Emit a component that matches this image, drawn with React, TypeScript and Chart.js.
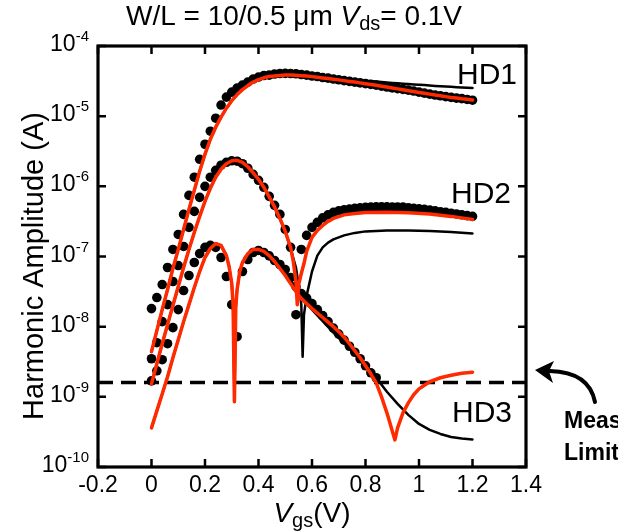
import React, { useEffect, useRef } from 'react';
import { Chart, registerables } from 'chart.js';

Chart.register(...registerables);

const FONT = '"Liberation Sans", Arial, Helvetica, sans-serif';

// ---- Axis ticks ----
const X_TICKS = [-0.2, 0, 0.2, 0.4, 0.6, 0.8, 1, 1.2, 1.4];
const X_TICK_LABELS = ['-0.2', '0', '0.2', '0.4', '0.6', '0.8', '1', '1.2', '1.4'];
const Y_TICKS = [1e-10, 1e-9, 1e-8, 1e-7, 1e-6, 1e-5, 1e-4];
const Y_TICK_EXP = ['-10', '-9', '-8', '-7', '-6', '-5', '-4'];

// ---- Measured points (dots) ----
const VGS = [0, 0.02, 0.04, 0.06, 0.08, 0.1, 0.12, 0.14, 0.16, 0.18, 0.2, 0.22, 0.24, 0.26, 0.28, 0.3, 0.32, 0.34, 0.36, 0.38, 0.4, 0.42, 0.44, 0.46, 0.48, 0.5, 0.52, 0.54, 0.56, 0.58, 0.6, 0.62, 0.64, 0.66, 0.68, 0.7, 0.72, 0.74, 0.76, 0.78, 0.8, 0.82, 0.84, 0.86, 0.88, 0.9, 0.92, 0.94, 0.96, 0.98, 1.0, 1.02, 1.04, 1.06, 1.08, 1.1, 1.12, 1.14, 1.16, 1.18, 1.2];

const HD1_MEAS = [1.81e-8, 2.6e-8, 3.98e-8, 6.97e-8, 1.26e-7, 2.06e-7, 3.98e-7, 7.43e-7, 1.35e-6, 2.43e-6, 3.98e-6, 6.11e-6, 9.36e-6, 1.44e-5, 1.87e-5, 2.2e-5, 2.51e-5, 2.77e-5, 3.06e-5, 3.38e-5, 3.61e-5, 3.79e-5, 3.85e-5, 3.98e-5, 4.05e-5, 4.07e-5, 4.05e-5, 4.02e-5, 3.92e-5, 3.85e-5, 3.73e-5, 3.67e-5, 3.55e-5, 3.49e-5, 3.38e-5, 3.3e-5, 3.21e-5, 3.13e-5, 3.06e-5, 2.98e-5, 2.91e-5, 2.84e-5, 2.77e-5, 2.68e-5, 2.6e-5, 2.53e-5, 2.47e-5, 2.41e-5, 2.35e-5, 2.28e-5, 2.2e-5, 2.13e-5, 2.06e-5, 2.0e-5, 1.95e-5, 1.9e-5, 1.85e-5, 1.81e-5, 1.78e-5, 1.73e-5, 1.69e-5];

const HD2_MEAS = [3.49e-9, 5.91e-9, 1.18e-8, 2.06e-8, 4.4e-8, 7.43e-8, 1.39e-7, 2.6e-7, 4.4e-7, 6.97e-7, 1.0e-6, 1.35e-6, 1.69e-6, 2.0e-6, 2.2e-6, 2.31e-6, 2.28e-6, 2.1e-6, 1.81e-6, 1.48e-6, 1.22e-6, 9.68e-7, 7.2e-7, 5.36e-7, 3.98e-7, 2.43e-7, 1.35e-7, 1.48e-8, 1.26e-7, 2.0e-7, 2.6e-7, 3.06e-7, 3.55e-7, 3.92e-7, 4.25e-7, 4.47e-7, 4.62e-7, 4.74e-7, 4.85e-7, 4.93e-7, 5.01e-7, 5.07e-7, 5.1e-7, 5.11e-7, 5.1e-7, 5.08e-7, 5.06e-7, 5.05e-7, 4.96e-7, 4.85e-7, 4.77e-7, 4.7e-7, 4.58e-7, 4.47e-7, 4.35e-7, 4.25e-7, 4.14e-7, 4.04e-7, 3.93e-7, 3.83e-7, 3.73e-7];

const HD3_MEAS = [1.69e-9, 2.35e-9, 3.38e-9, 5.72e-9, 9.68e-9, 1.75e-8, 3.27e-8, 5.36e-8, 8.21e-8, 1.1e-7, 1.35e-7, 1.44e-7, 1.35e-7, 9.68e-8, 5.18e-8, 2.06e-8, 7.2e-9, 6.11e-8, 9.06e-8, 1.14e-7, 1.22e-7, 1.14e-7, 1.02e-7, 8.77e-8, 7.69e-8, 6.52e-8, 5.01e-8, 3.73e-8, 2.96e-8, 2.55e-8, 2.13e-8, 1.75e-8, 1.44e-8, 1.18e-8, 9.52e-9, 7.82e-9, 6.42e-9, 5.26e-9, 4.32e-9, 3.49e-9, 2.77e-9, 2.2e-9, 1.87e-9, null, null, null, null, null, null, null, null, null, null, null, null, null, null, null, null, null, null];

// ---- Model (red) and simulation (black) curves ----
const HD1_FIT = [4.4e-9, 8.77e-9, 1.75e-8, 3.38e-8, 6.74e-8, 1.26e-7, 2.43e-7, 4.69e-7, 8.77e-7, 1.64e-6, 2.87e-6, 4.69e-6, 6.97e-6, 9.68e-6, 1.3e-5, 1.66e-5, 2.03e-5, 2.39e-5, 2.73e-5, 3.06e-5, 3.32e-5, 3.52e-5, 3.67e-5, 3.75e-5, 3.81e-5, 3.85e-5, 3.85e-5, 3.83e-5, 3.78e-5, 3.73e-5, 3.66e-5, 3.58e-5, 3.51e-5, 3.44e-5, 3.37e-5, 3.29e-5, 3.21e-5, 3.13e-5, 3.06e-5, 2.98e-5, 2.9e-5, 2.83e-5, 2.75e-5, 2.67e-5, 2.6e-5, 2.52e-5, 2.45e-5, 2.38e-5, 2.31e-5, 2.25e-5, 2.18e-5, 2.12e-5, 2.06e-5, 2.0e-5, 1.95e-5, 1.9e-5, 1.85e-5, 1.81e-5, 1.77e-5, 1.74e-5, 1.7e-5];

const HD1_SIM = [4.4e-9, 8.77e-9, 1.75e-8, 3.38e-8, 6.74e-8, 1.26e-7, 2.43e-7, 4.69e-7, 8.77e-7, 1.64e-6, 2.87e-6, 4.69e-6, 6.97e-6, 9.68e-6, 1.3e-5, 1.66e-5, 2.03e-5, 2.39e-5, 2.73e-5, 3.06e-5, 3.32e-5, 3.52e-5, 3.67e-5, 3.75e-5, 3.81e-5, 3.85e-5, 3.85e-5, 3.83e-5, 3.78e-5, 3.73e-5, 3.7e-5, 3.65e-5, 3.61e-5, 3.55e-5, 3.49e-5, 3.43e-5, 3.38e-5, 3.33e-5, 3.29e-5, 3.24e-5, 3.19e-5, 3.15e-5, 3.11e-5, 3.07e-5, 3.03e-5, 2.98e-5, 2.94e-5, 2.9e-5, 2.87e-5, 2.83e-5, 2.8e-5, 2.77e-5, 2.74e-5, 2.7e-5, 2.67e-5, 2.64e-5, 2.62e-5, 2.59e-5, 2.57e-5, 2.55e-5, 2.53e-5];

const HD2_FIT_X = [0, 0.02, 0.04, 0.06, 0.08, 0.1, 0.12, 0.14, 0.16, 0.18, 0.2, 0.22, 0.24, 0.26, 0.28, 0.3, 0.32, 0.34, 0.36, 0.38, 0.4, 0.42, 0.44, 0.46, 0.48, 0.5, 0.52, 0.53, 0.54, 0.545, 0.55, 0.56, 0.57, 0.58, 0.6, 0.62, 0.64, 0.66, 0.68, 0.72, 0.76, 0.8, 0.88, 0.96, 1.04, 1.12, 1.2];
const HD2_FIT = [1.53e-9, 2.96e-9, 5.72e-9, 1.07e-8, 2.0e-8, 3.73e-8, 6.97e-8, 1.26e-7, 2.2e-7, 3.73e-7, 6.11e-7, 9.36e-7, 1.35e-6, 1.75e-6, 2.1e-6, 2.31e-6, 2.35e-6, 2.2e-6, 1.9e-6, 1.56e-6, 1.26e-6, 9.68e-7, 7.08e-7, 5.09e-7, 3.49e-7, 2.28e-7, 1.35e-7, 8.49e-8, 4.4e-8, 2.06e-8, 3.98e-8, 5.72e-8, 7.94e-8, 1.18e-7, 1.87e-7, 2.35e-7, 2.77e-7, 3.16e-7, 3.49e-7, 3.92e-7, 4.11e-7, 4.25e-7, 4.28e-7, 4.21e-7, 4.02e-7, 3.73e-7, 3.38e-7];

const HD2_SIM_X = [0, 0.02, 0.04, 0.06, 0.08, 0.1, 0.12, 0.14, 0.16, 0.18, 0.2, 0.22, 0.24, 0.26, 0.28, 0.3, 0.32, 0.34, 0.36, 0.38, 0.4, 0.42, 0.44, 0.46, 0.48, 0.5, 0.52, 0.54, 0.55, 0.56, 0.565, 0.57, 0.58, 0.6, 0.62, 0.64, 0.66, 0.68, 0.72, 0.76, 0.8, 0.88, 0.96, 1.04, 1.12, 1.2];
const HD2_SIM = [1.53e-9, 2.96e-9, 5.72e-9, 1.07e-8, 2.0e-8, 3.73e-8, 6.97e-8, 1.26e-7, 2.2e-7, 3.73e-7, 6.11e-7, 9.36e-7, 1.35e-6, 1.75e-6, 2.1e-6, 2.31e-6, 2.35e-6, 2.2e-6, 1.9e-6, 1.56e-6, 1.26e-6, 9.68e-7, 7.08e-7, 5.09e-7, 3.49e-7, 2.28e-7, 1.3e-7, 6.97e-8, 3.98e-8, 2.06e-8, 3.73e-9, 1.48e-8, 2.77e-8, 6.11e-8, 1.03e-7, 1.35e-7, 1.58e-7, 1.75e-7, 2.0e-7, 2.17e-7, 2.28e-7, 2.35e-7, 2.35e-7, 2.31e-7, 2.24e-7, 2.13e-7];

const HD3_FIT_X = [0, 0.02, 0.04, 0.06, 0.08, 0.1, 0.12, 0.14, 0.16, 0.18, 0.2, 0.22, 0.24, 0.26, 0.28, 0.29, 0.3, 0.305, 0.31, 0.315, 0.32, 0.33, 0.34, 0.36, 0.38, 0.4, 0.42, 0.44, 0.46, 0.48, 0.5, 0.52, 0.54, 0.56, 0.58, 0.6, 0.62, 0.64, 0.66, 0.68, 0.7, 0.72, 0.74, 0.76, 0.78, 0.8, 0.82, 0.84, 0.86, 0.88, 0.89, 0.9, 0.91, 0.92, 0.94, 0.96, 0.98, 1.0, 1.04, 1.08, 1.12, 1.16, 1.2];
const HD3_FIT = [3.61e-10, 6.31e-10, 1.1e-9, 1.93e-9, 3.61e-9, 6.52e-9, 1.18e-8, 2.06e-8, 3.61e-8, 6.11e-8, 9.68e-8, 1.3e-7, 1.53e-7, 1.44e-7, 1.03e-7, 7.2e-8, 4.11e-8, 2.06e-8, 8.49e-10, 1.87e-8, 3.38e-8, 6.11e-8, 8.21e-8, 1.1e-7, 1.26e-7, 1.26e-7, 1.18e-7, 1.03e-7, 8.49e-8, 6.74e-8, 5.36e-8, 4.11e-8, 3.16e-8, 2.51e-8, 2.13e-8, 1.81e-8, 1.56e-8, 1.35e-8, 1.16e-8, 1.0e-8, 8.49e-9, 7.08e-9, 5.72e-9, 4.54e-9, 3.61e-9, 2.77e-9, 2.13e-9, 1.58e-9, 1.0e-9, 5.91e-10, 4.4e-10, 3.27e-10, 2.43e-10, 3.61e-10, 5.91e-10, 8.21e-10, 1.07e-9, 1.3e-9, 1.64e-9, 1.87e-9, 2.03e-9, 2.17e-9, 2.24e-9];

const HD3_SIM_X = [0, 0.02, 0.04, 0.06, 0.08, 0.1, 0.12, 0.14, 0.16, 0.18, 0.2, 0.22, 0.24, 0.26, 0.28, 0.29, 0.3, 0.305, 0.31, 0.315, 0.32, 0.33, 0.34, 0.36, 0.38, 0.4, 0.42, 0.44, 0.46, 0.48, 0.5, 0.52, 0.54, 0.56, 0.58, 0.6, 0.64, 0.68, 0.72, 0.76, 0.8, 0.84, 0.88, 0.92, 0.96, 1.0, 1.04, 1.08, 1.12, 1.16, 1.2];
const HD3_SIM = [3.61e-10, 6.31e-10, 1.1e-9, 1.93e-9, 3.61e-9, 6.52e-9, 1.18e-8, 2.06e-8, 3.61e-8, 6.11e-8, 9.68e-8, 1.3e-7, 1.53e-7, 1.44e-7, 1.03e-7, 7.2e-8, 4.11e-8, 2.06e-8, 8.49e-10, 1.87e-8, 3.38e-8, 6.11e-8, 8.21e-8, 1.1e-7, 1.26e-7, 1.26e-7, 1.18e-7, 1.03e-7, 8.49e-8, 6.74e-8, 6.31e-8, 4.69e-8, 3.38e-8, 2.51e-8, 2.13e-8, 1.75e-8, 1.2e-8, 8.2e-9, 5.8e-9, 4.0e-9, 2.77e-9, 1.87e-9, 1.18e-9, 7.94e-10, 5.53e-10, 4.11e-10, 3.38e-10, 2.96e-10, 2.68e-10, 2.55e-10, 2.47e-10];

const MEAS_LIMIT = 1.6e-9;
const LIMIT_X = [-0.2, 1.4];

const RED = '#ff2a00';

const pts = (xs: number[], ys: (number | null)[]) =>
  xs.map((v, i) => ({ x: v, y: ys[i] })).filter((p) => p.y !== null);

type Seg = { t: string; font: string; dy?: number };

function drawRich(ctx: CanvasRenderingContext2D, segs: Seg[], cx: number, y: number) {
  let total = 0;
  const widths = segs.map((s) => {
    ctx.font = s.font;
    const w = ctx.measureText(s.t).width;
    total += w;
    return w;
  });
  let x = cx - total / 2;
  ctx.textAlign = 'left';
  segs.forEach((s, i) => {
    ctx.font = s.font;
    ctx.fillText(s.t, x, y + (s.dy || 0));
    x += widths[i];
  });
}

const decorPlugin = {
  id: 'decor',
  afterDraw(chart: any) {
    const { ctx, chartArea: a, scales } = chart;
    const xs = scales.x;
    const ys = scales.y;
    ctx.save();
    ctx.fillStyle = '#000';
    ctx.strokeStyle = '#000';
    ctx.textBaseline = 'alphabetic';

    // frame
    ctx.lineWidth = 3.2;
    ctx.strokeRect(a.left, a.top, a.right - a.left, a.bottom - a.top);

    // inward ticks
    ctx.lineWidth = 2.5;
    ctx.beginPath();
    X_TICKS.forEach((v) => {
      const px = xs.getPixelForValue(v);
      ctx.moveTo(px, a.bottom);
      ctx.lineTo(px, a.bottom - 8);
      ctx.moveTo(px, a.top);
      ctx.lineTo(px, a.top + 8);
    });
    Y_TICKS.forEach((v) => {
      const py = ys.getPixelForValue(v);
      ctx.moveTo(a.left, py);
      ctx.lineTo(a.left + 8, py);
      ctx.moveTo(a.right, py);
      ctx.lineTo(a.right - 8, py);
    });
    ctx.stroke();

    // x tick labels
    ctx.font = `23px ${FONT}`;
    ctx.textAlign = 'center';
    X_TICKS.forEach((v, i) => {
      ctx.fillText(X_TICK_LABELS[i], xs.getPixelForValue(v), a.bottom + 25);
    });

    // y tick labels 10^n
    const baseFont = `23px ${FONT}`;
    const supFont = `15px ${FONT}`;
    Y_TICKS.forEach((v, i) => {
      const py = ys.getPixelForValue(v);
      ctx.font = baseFont;
      const w1 = ctx.measureText('10').width;
      ctx.font = supFont;
      const w2 = ctx.measureText(Y_TICK_EXP[i]).width;
      const right = 89;
      ctx.textAlign = 'left';
      ctx.font = baseFont;
      ctx.fillText('10', right - w1 - w2, py + 5);
      ctx.font = supFont;
      ctx.fillText(Y_TICK_EXP[i], right - w2, py - 5);
    });

    // title
    drawRich(
      ctx,
      [
        { t: 'W/L = 10/0.5 \u03BCm ', font: `28px ${FONT}` },
        { t: 'V', font: `italic 28px ${FONT}` },
        { t: 'ds', font: `20px ${FONT}`, dy: 5 },
        { t: '= 0.1V', font: `28px ${FONT}` },
      ],
      294,
      25
    );

    // x axis title
    drawRich(
      ctx,
      [
        { t: 'V', font: `italic 28px ${FONT}` },
        { t: 'gs', font: `20px ${FONT}`, dy: 5 },
        { t: '(V)', font: `28px ${FONT}` },
      ],
      312,
      522
    );

    // y axis title
    ctx.save();
    ctx.translate(43, 266);
    ctx.rotate(-Math.PI / 2);
    ctx.font = `29px ${FONT}`;
    ctx.textAlign = 'center';
    ctx.fillText('Harmonic Amplitude (A)', 0, 0);
    ctx.restore();

    // curve labels
    ctx.font = `30px ${FONT}`;
    ctx.textAlign = 'left';
    ctx.fillText('HD1', 457, 84);
    ctx.fillText('HD2', 451, 203);
    ctx.fillText('HD3', 452, 422);

    // measurement limit note
    ctx.font = `bold 23px ${FONT}`;
    ctx.fillText('Meas.', 564, 428);
    ctx.fillText('Limit', 564, 460);

    // curved arrow
    ctx.lineWidth = 4;
    ctx.lineCap = 'round';
    ctx.beginPath();
    ctx.moveTo(595, 402);
    ctx.quadraticCurveTo(589, 372, 550, 371);
    ctx.stroke();
    ctx.beginPath();
    ctx.moveTo(535, 370);
    ctx.lineTo(554, 361);
    ctx.lineTo(549, 371);
    ctx.lineTo(553, 383);
    ctx.closePath();
    ctx.fill();

    ctx.restore();
  },
};

export default function App() {
  const ref = useRef<HTMLCanvasElement>(null);

  useEffect(() => {
    if (!ref.current) return;
    const lineBase = {
      showLine: true,
      pointRadius: 0,
      pointHoverRadius: 0,
      borderJoinStyle: 'round' as const,
      borderCapStyle: 'round' as const,
      tension: 0,
    };
    const dotBase = {
      showLine: false,
      pointRadius: 4.8,
      pointBackgroundColor: '#000',
      pointBorderWidth: 0,
      backgroundColor: '#000',
      borderColor: '#000',
    };
    const chart = new Chart(ref.current, {
      type: 'scatter',
      data: {
        datasets: [
          { ...dotBase, label: 'HD1 meas', data: pts(VGS, HD1_MEAS), order: 4 },
          { ...dotBase, label: 'HD2 meas', data: pts(VGS, HD2_MEAS), order: 4 },
          { ...dotBase, label: 'HD3 meas', data: pts(VGS, HD3_MEAS), order: 4 },
          { ...lineBase, label: 'HD1 sim', data: pts(VGS, HD1_SIM), borderColor: '#000', borderWidth: 2.5, order: 3 },
          { ...lineBase, label: 'HD2 sim', data: pts(HD2_SIM_X, HD2_SIM), borderColor: '#000', borderWidth: 2.5, order: 3 },
          { ...lineBase, label: 'HD3 sim', data: pts(HD3_SIM_X, HD3_SIM), borderColor: '#000', borderWidth: 2.5, order: 3 },
          {
            ...lineBase,
            label: 'Measurement limit',
            data: pts(LIMIT_X, [MEAS_LIMIT, MEAS_LIMIT]),
            borderColor: '#000',
            borderWidth: 3.5,
            borderDash: [15, 8],
            borderCapStyle: 'butt' as const,
            order: 2,
          },
          { ...lineBase, label: 'HD1 model', data: pts(VGS, HD1_FIT), borderColor: RED, borderWidth: 3.5, order: 1 },
          { ...lineBase, label: 'HD2 model', data: pts(HD2_FIT_X, HD2_FIT), borderColor: RED, borderWidth: 3.5, order: 1 },
          { ...lineBase, label: 'HD3 model', data: pts(HD3_FIT_X, HD3_FIT), borderColor: RED, borderWidth: 3.5, order: 1 },
        ],
      },
      options: {
        responsive: false,
        animation: false,
        devicePixelRatio: 1,
        layout: { padding: { left: 98, top: 46, right: 92, bottom: 65 } },
        plugins: { legend: { display: false }, tooltip: { enabled: false }, title: { display: false } },
        events: [],
        scales: {
          x: { type: 'linear', min: -0.2, max: 1.4, display: false },
          y: { type: 'logarithmic', min: 1e-10, max: 1e-4, display: false },
        },
      },
      plugins: [decorPlugin],
    } as any);
    return () => chart.destroy();
  }, []);

  return (
    <div style={{ position: 'absolute', left: 0, top: 0, width: 618, height: 532, background: '#fff' }}>
      <canvas ref={ref} width={618} height={532} style={{ display: 'block', width: 618, height: 532 }} />
    </div>
  );
}
